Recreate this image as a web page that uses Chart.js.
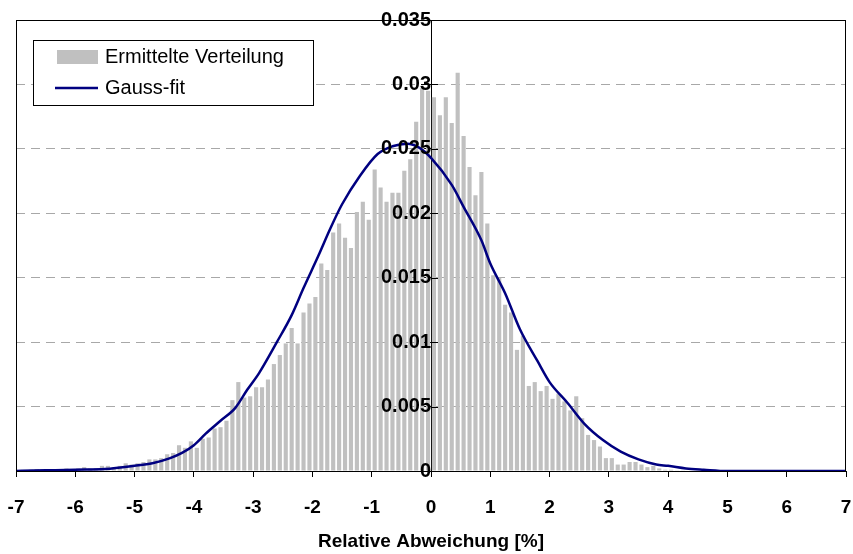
<!DOCTYPE html>
<html>
<head>
<meta charset="utf-8">
<script src="https://cdn.jsdelivr.net/npm/chart.js@4/dist/chart.umd.min.js"></script>
<style>
  html, body { margin: 0; padding: 0; background: #fff; }
  #wrap { width: 853px; height: 554px; }
</style>
</head>
<body>
<div id="wrap"><canvas id="chart" width="853" height="554"></canvas></div>
<script>
// histogram bin centres (bin width 0.1 %)
const binCenters = [
  -6.95, -6.85, -6.75, -6.65, -6.55, -6.45, -6.35, -6.25, -6.15, -6.05,
  -5.95, -5.85, -5.75, -5.65, -5.55, -5.45, -5.35, -5.25, -5.15, -5.05,
  -4.95, -4.85, -4.75, -4.65, -4.55, -4.45, -4.35, -4.25, -4.15, -4.05,
  -3.95, -3.85, -3.75, -3.65, -3.55, -3.45, -3.35, -3.25, -3.15, -3.05,
  -2.95, -2.85, -2.75, -2.65, -2.55, -2.45, -2.35, -2.25, -2.15, -2.05,
  -1.95, -1.85, -1.75, -1.65, -1.55, -1.45, -1.35, -1.25, -1.15, -1.05,
  -0.95, -0.85, -0.75, -0.65, -0.55, -0.45, -0.35, -0.25, -0.15, -0.05,
  0.05, 0.15, 0.25, 0.35, 0.45, 0.55, 0.65, 0.75, 0.85, 0.95,
  1.05, 1.15, 1.25, 1.35, 1.45, 1.55, 1.65, 1.75, 1.85, 1.95,
  2.05, 2.15, 2.25, 2.35, 2.45, 2.55, 2.65, 2.75, 2.85, 2.95,
  3.05, 3.15, 3.25, 3.35, 3.45, 3.55, 3.65, 3.75, 3.85, 3.95,
  4.05, 4.15, 4.25, 4.35, 4.45, 4.55, 4.65, 4.75, 4.85, 4.95,
  5.05, 5.15, 5.25, 5.35, 5.45, 5.55, 5.65, 5.75, 5.85, 5.95,
  6.05, 6.15, 6.25, 6.35, 6.45, 6.55, 6.65, 6.75, 6.85, 6.95
];

// Ermittelte Verteilung
const histValues = [
  0, 0, 0.0001, 0.00015, 0.0001, 0.00015, 0.0001, 0.0001, 0.0002, 0.0001,
  0.0002, 0.0003, 0.0002, 0.0002, 0.0004, 0.0004, 0.0003, 0.0004, 0.0006, 0.0005,
  0.0006, 0.0007, 0.0009, 0.0009, 0.0010, 0.0013, 0.0014, 0.0020, 0.0018, 0.0023,
  0.0018, 0.0025, 0.0026, 0.0033, 0.0034, 0.0039, 0.0055, 0.0069, 0.0057, 0.0058,
  0.0065, 0.0065, 0.0071, 0.0083, 0.0090, 0.0099, 0.0111, 0.0099, 0.0123, 0.0130,
  0.0135, 0.0161, 0.0156, 0.0185, 0.0192, 0.0181, 0.0173, 0.0201, 0.0209, 0.0195,
  0.0234, 0.0220, 0.0209, 0.0216, 0.0216, 0.0233, 0.0242, 0.0271, 0.0297, 0.0295,
  0.0290, 0.0276, 0.0290, 0.0270, 0.0309, 0.0260, 0.0236, 0.0214, 0.0232, 0.0192,
  0.0152, 0.0150, 0.0129, 0.0123, 0.0094, 0.0105, 0.0066, 0.0069, 0.0062, 0.0066,
  0.0056, 0.0060, 0.0054, 0.0047, 0.0058, 0.0041, 0.0028, 0.0024, 0.0019, 0.0010,
  0.0010, 0.0005, 0.0005, 0.0007, 0.0007, 0.0005, 0.0003, 0.0004, 0.0002, 0.0001,
  0.0001, 0.00005, 0.00005, 0, 0, 0, 0, 0, 0, 0,
  0, 0, 0, 0, 0, 0, 0, 0, 0, 0,
  0, 0, 0, 0, 0, 0, 0, 0, 0, 0
];

// Gauss-fit
const gaussX = [
  -7, -6.5, -6, -5.5, -5, -4.7, -4.4, -4.2, -4, -3.8,
  -3.55, -3.3, -3.1, -2.9, -2.6, -2.35, -2.15, -1.9, -1.7, -1.5,
  -1.2, -0.9, -0.65, -0.4, -0.2, 0, 0.35, 0.55, 0.85, 1,
  1.25, 1.5, 1.8, 2, 2.3, 2.6, 2.9, 3.2, 3.5, 3.8,
  4, 4.3, 4.6, 5, 6, 7
];
const gaussY = [
  0, 0.00005, 0.0001, 0.00015, 0.0004, 0.0006, 0.0010, 0.0014, 0.0020, 0.0029,
  0.0039, 0.0049, 0.0063, 0.0076, 0.0100, 0.0121, 0.0142, 0.0167, 0.0188, 0.0207,
  0.0229, 0.0246, 0.0252, 0.0254, 0.0251, 0.0243, 0.0222, 0.0205, 0.0179, 0.0161,
  0.0138, 0.0110, 0.0085, 0.0069, 0.0053, 0.0036, 0.0024, 0.0015, 0.0009, 0.0005,
  0.0004, 0.0002, 0.0001, 0, 0, 0
];

const xTicks = [-7, -6, -5, -4, -3, -2, -1, 0, 1, 2, 3, 4, 5, 6, 7];
const yTicks = [0, 0.005, 0.01, 0.015, 0.02, 0.025, 0.03, 0.035];

const FONT = "'Liberation Sans', Arial, sans-serif";
const barGrey = "#c0c0c0";
const navy = "#000080";

// frame around plot area, right half of the y tick marks, legend box
const framePlugin = {
    id: "frame",
    afterDraw(chart) {
        const { ctx, chartArea: a, scales } = chart;
        ctx.save();
        ctx.strokeStyle = "#000";
        ctx.lineWidth = 1;
        ctx.strokeRect(Math.round(a.left) + 0.5, Math.round(a.top) + 0.5,
            Math.round(a.right - a.left) - 1, Math.round(a.bottom - a.top));

        const x0 = Math.round(scales.x.getPixelForValue(0));
        ctx.beginPath();
        yTicks.forEach(v => {
            const py = Math.round(scales.y.getPixelForValue(v)) + 0.5;
            ctx.moveTo(x0, py);
            ctx.lineTo(x0 + 7, py);
        });
        ctx.stroke();

        // legend
        const ds = chart.data.datasets;
        ctx.fillStyle = "#fff";
        ctx.fillRect(33, 40, 280, 65);
        ctx.strokeRect(33.5, 40.5, 280, 65);
        ctx.fillStyle = barGrey;
        ctx.fillRect(57, 50, 41, 14);
        ctx.strokeStyle = navy;
        ctx.lineWidth = 2.5;
        ctx.beginPath();
        ctx.moveTo(55, 88);
        ctx.lineTo(98, 88);
        ctx.stroke();
        ctx.fillStyle = "#000";
        ctx.font = "20px " + FONT;
        ctx.textBaseline = "middle";
        ctx.fillText(ds[1].label, 105, 57);
        ctx.fillText(ds[0].label, 105, 88);
        ctx.restore();
    }
};

new Chart(document.getElementById("chart"), {
    type: "bar",
    data: {
        datasets: [
            {
                type: "line",
                label: "Gauss-fit",
                data: gaussX.map((x, i) => ({ x: x, y: gaussY[i] })),
                borderColor: navy,
                borderWidth: 2.5,
                pointRadius: 0,
                cubicInterpolationMode: "monotone",
                fill: false,
                order: 0
            },
            {
                label: "Ermittelte Verteilung",
                data: binCenters.map((x, i) => ({ x: x, y: histValues[i] })),
                backgroundColor: barGrey,
                borderWidth: 0,
                barPercentage: 0.7,
                categoryPercentage: 1,
                order: 1
            }
        ]
    },
    options: {
        responsive: false,
        animation: false,
        devicePixelRatio: 1,
        layout: { padding: { left: 16, right: 7, top: 20, bottom: 0 } },
        plugins: {
            legend: { display: false },
            tooltip: { enabled: false }
        },
        scales: {
            x: {
                type: "linear",
                min: -7,
                max: 7,
                offset: false,
                afterBuildTicks: (s) => { s.ticks = xTicks.map(v => ({ value: v })); },
                afterFit: (s) => { s.height = 83; s.paddingLeft = 0; s.paddingRight = 0; },
                grid: {
                    offset: false,
                    drawOnChartArea: false,
                    drawTicks: true,
                    tickLength: 6,
                    tickColor: "#000"
                },
                border: { color: "#000", width: 1 },
                ticks: {
                    padding: 19,
                    color: "#000",
                    font: { family: FONT, size: 19, weight: "bold" },
                    maxRotation: 0,
                    autoSkip: false
                },
                title: {
                    display: true,
                    text: "Relative Abweichung [%]",
                    color: "#000",
                    font: { family: FONT, size: 19, weight: "bold" },
                    padding: { top: 0, bottom: 1 }
                }
            },
            y: {
                type: "linear",
                position: { x: 0 },
                min: 0,
                max: 0.035,
                afterBuildTicks: (s) => { s.ticks = yTicks.map(v => ({ value: v })); },
                grid: {
                    color: (c) => (c.tick && (c.tick.value === 0 || c.tick.value >= 0.035)) ? "rgba(0,0,0,0)" : "#a8a8a8",
                    drawTicks: true,
                    tickLength: 10,
                    tickColor: "#000"
                },
                border: { color: "#000", width: 1, dash: [9, 6] },
                ticks: {
                    z: 1,
                    padding: 8,
                    color: "#000",
                    font: { family: FONT, size: 20, weight: "bold" },
                    callback: (v) => String(v)
                }
            }
        }
    },
    plugins: [framePlugin]
});
</script>
</body>
</html>
